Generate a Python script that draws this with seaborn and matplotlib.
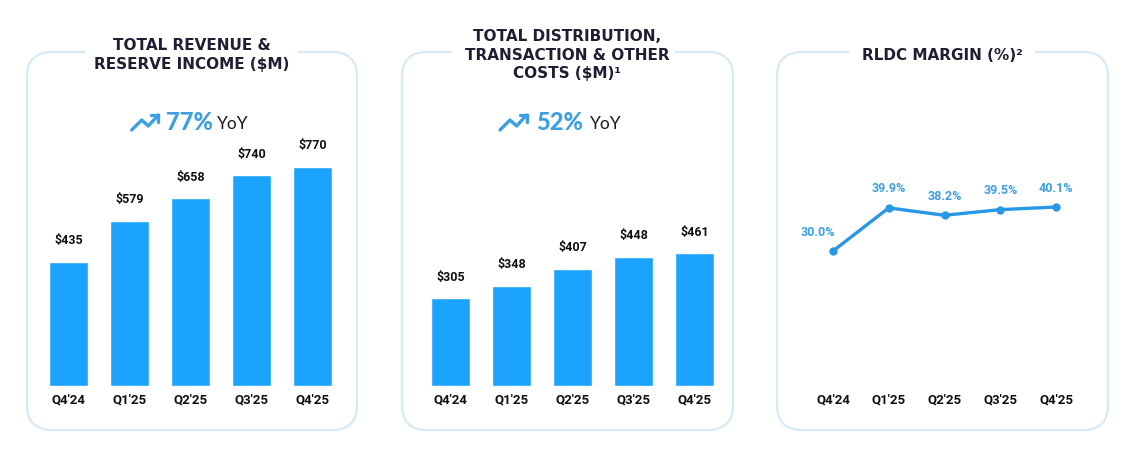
import matplotlib
matplotlib.use("Agg")
import matplotlib.pyplot as plt
import seaborn as sns
from matplotlib.patches import FancyBboxPatch, Rectangle
from matplotlib.lines import Line2D
from matplotlib.transforms import IdentityTransform

quarters = ["Q4'24", "Q1'25", "Q2'25", "Q3'25", "Q4'25"]
revenue = [435, 579, 658, 740, 770]
costs = [305, 348, 407, 448, 461]
margin = [30.0, 39.9, 38.2, 39.5, 40.1]
titles = ["TOTAL REVENUE &\nRESERVE INCOME ($M)",
          "TOTAL DISTRIBUTION,\nTRANSACTION & OTHER\nCOSTS ($M)\u00b9",
          "RLDC MARGIN (%)\u00b2"]
yoy = ["77%", "52%"]

sns.set_theme(style="white")
plt.rcParams['font.family'] = ['Roboto', 'DejaVu Sans']

W, H = 1138, 461
fig = plt.figure(figsize=(W / 100, H / 100), dpi=100)
fig.patch.set_facecolor("white")

def fx(x):
    return x / W

def fy(y):
    return 1 - y / H

BAR = "#1ca3fd"
LINE = "#2898e6"
LBL = "#3c9fe3"
NAVY = "#211e33"
BORDER = "#d6eaf8"
TITLE_FONT = ['DejaVu Sans']

# panel boxes (pixel coordinates)
boxes = [(27, 52, 357, 430), (402, 52, 733, 430), (777, 52, 1108, 430)]
gaps = [(85, 298), (452, 675), (850, 1035)]
ident = IdentityTransform()
for (x0, y0, x1, y1), (g0, g1) in zip(boxes, gaps):
    p = FancyBboxPatch((x0, H - y1), x1 - x0, y1 - y0,
                       boxstyle="round,pad=0,rounding_size=25",
                       transform=ident, facecolor="none",
                       edgecolor=BORDER, linewidth=1.6)
    fig.patches.append(p)
    fig.patches.append(Rectangle((g0, H - y0 - 4), g1 - g0, 8,
                                 transform=ident, facecolor="white",
                                 edgecolor="none", zorder=2))

# titles
tkw = dict(ha="center", va="center", fontsize=11, fontweight="bold",
           color=NAVY, family=TITLE_FONT, zorder=3)
fig.text(fx(192), fy(55), titles[0], linespacing=1.3, **tkw)
fig.text(fx(567), fy(55), titles[1], linespacing=1.27, **tkw)
fig.text(fx(942), fy(55), titles[2], **tkw)

# YoY callouts
def trend_icon(x0, y0):
    pts = [(0, 0), (10, -10), (16.6, -4), (26.6, -15)]
    fig.lines.append(Line2D([fx(x0 + p[0]) for p in pts], [fy(y0 + p[1]) for p in pts],
                            transform=fig.transFigure, color=LBL,
                            linewidth=2.4, solid_capstyle="round", solid_joinstyle="round"))
    head = [(19.5, -15), (26.6, -15), (26.6, -8)]
    fig.lines.append(Line2D([fx(x0 + p[0]) for p in head], [fy(y0 + p[1]) for p in head],
                            transform=fig.transFigure, color=LBL, linewidth=2.4,
                            solid_capstyle="round", solid_joinstyle="miter"))

for (ix, tx, yx), txt in zip([(131.7, 166, 217), (500, 536, 590)], yoy):
    trend_icon(ix, 130)
    fig.text(fx(tx), fy(123), txt, ha="left", va="center", fontsize=17,
             fontweight="black", color=LBL, family=['Lato', 'DejaVu Sans'])
    fig.text(fx(yx), fy(124), "YoY", ha="left", va="center", fontsize=12.5,
             color="#1b1b24", family=['Lato', 'DejaVu Sans'])

# bar panels
step = 61
ax_h = 256.5
def make_ax(first_center, step_px, bottom_px=386):
    left = first_center - 0.6 * step_px
    width = 5.2 * step_px
    return fig.add_axes([fx(left), fy(bottom_px), fx(width), ax_h / H])

for c0, vals, ymax in [(68.5, revenue, 900), (450.5, costs, 890)]:
    ax = make_ax(c0, step)
    sns.barplot(x=quarters, y=vals, ax=ax, color=BAR, saturation=1, width=0.64)
    ax.set_xlim(-0.6, 4.6)
    ax.set_ylim(0, ymax)
    for i, v in enumerate(vals):
        ax.annotate(f"${v}", (i, v), xytext=(0, 10.5), textcoords="offset points",
                    ha="center", va="bottom", fontsize=9, fontweight="bold", color="#111111")
    ax.set_xlabel("")
    ax.set_ylabel("")
    ax.set_yticks([])
    ax.tick_params(axis="x", length=0, pad=5.5, labelsize=9.5, labelcolor="#111111")
    for lab in ax.get_xticklabels():
        lab.set_fontweight("bold")
    for s in ax.spines.values():
        s.set_visible(False)
    ax.patch.set_alpha(0)

# line panel
ax3 = make_ax(833, 55.75)
xs = list(range(len(quarters)))
sns.lineplot(x=xs, y=margin, ax=ax3, color=LINE, linewidth=2.4, marker="o",
             markersize=6, markeredgewidth=0, sort=False)
ax3.set_xlim(-0.6, 4.6)
ax3.set_ylim(-1, 57.9)
ax3.set_xticks(xs)
ax3.set_xticklabels(quarters)
for i, v in enumerate(margin):
    dx = -11 if i == 0 else 0
    ax3.annotate(f"{v:.1f}%", (i, v), xytext=(dx, 9), textcoords="offset points",
                 ha="center", va="bottom", fontsize=9, fontweight="bold", color=LBL)
ax3.set_yticks([])
ax3.tick_params(axis="x", length=0, pad=5.5, labelsize=9.5, labelcolor="#111111")
for lab in ax3.get_xticklabels():
    lab.set_fontweight("bold")
for s in ax3.spines.values():
    s.set_visible(False)
ax3.patch.set_alpha(0)

fig.savefig("out.png", dpi=100, facecolor="white")
